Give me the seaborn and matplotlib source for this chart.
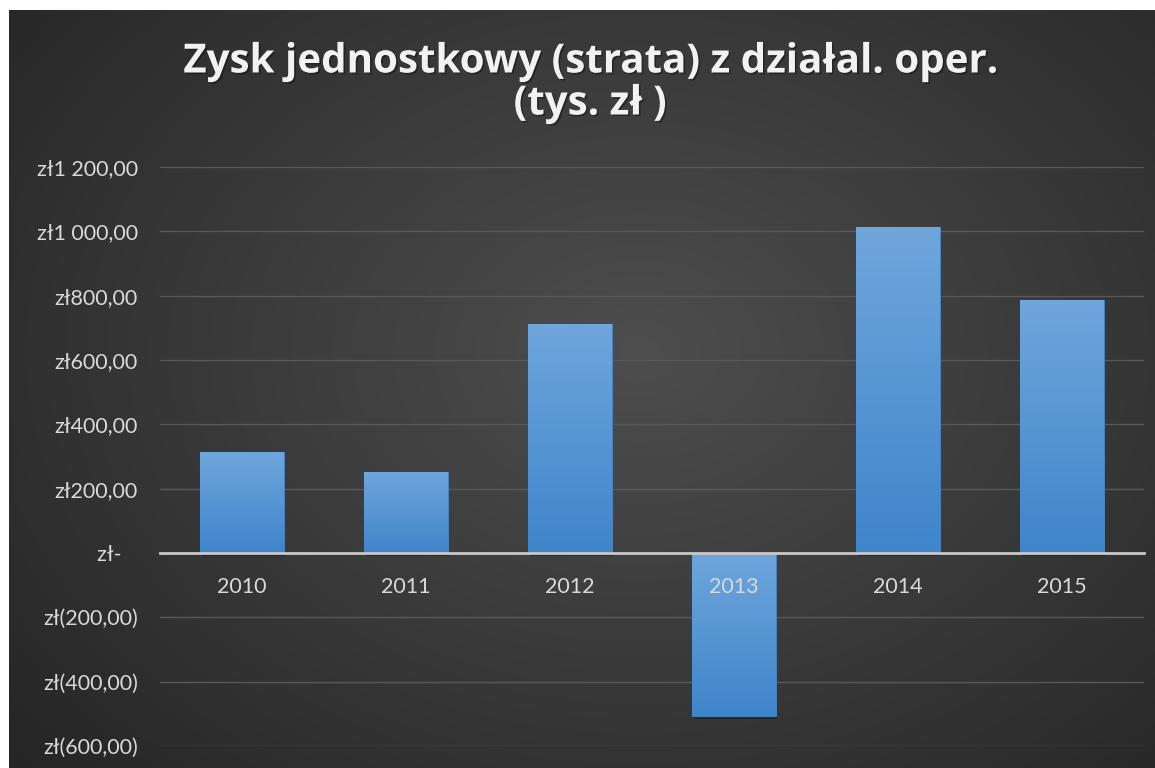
import numpy as np
import pandas as pd
import matplotlib
matplotlib.use("Agg")
import matplotlib.pyplot as plt
import matplotlib.patheffects as pe
import seaborn as sns
from matplotlib.ticker import FixedLocator, FixedFormatter

years = ["2010", "2011", "2012", "2013", "2014", "2015"]
values = [315, 252, 712, -507, 1013, 787]
ytick_values = [-600, -400, -200, 0, 200, 400, 600, 800, 1000, 1200]
ytick_labels = ["zł(600,00)", "zł(400,00)", "zł(200,00)", "zł-   ",
                "zł200,00", "zł400,00", "zł600,00", "zł800,00",
                "zł1 000,00", "zł1 200,00"]
title = "Zysk jednostkowy (strata) z działal. oper.\n(tys. zł )"

sns.set_theme(style="dark")
plt.rcParams["font.family"] = ["Lato", "DejaVu Sans"]

W, H = 1155, 768
fig = plt.figure(figsize=(W / 100, H / 100), dpi=100, facecolor="white")

# background panel with radial gradient
bg = fig.add_axes([9 / W, 0, 1 - 9 / W, 1 - 10 / H])
bg.set_axis_off()
yy, xx = np.mgrid[0:1:400j, 0:1:600j]
r = np.sqrt(((xx - 0.55) / 0.75) ** 2 + ((yy - 0.45) / 0.85) ** 2)
r = np.clip(r, 0, 1)
c_in = np.array([0x4e, 0x4e, 0x4e]) / 255
c_out = np.array([0x24, 0x24, 0x24]) / 255
img = c_in[None, None, :] * (1 - r[..., None]) + c_out[None, None, :] * r[..., None]
bg.imshow(img, extent=[0, 1, 0, 1], aspect="auto", origin="upper")
bg.set_xlim(0, 1)
bg.set_ylim(0, 1)

ax = fig.add_axes([160 / W, 1 - 746 / H, 984 / W, (746 - 167) / H])
ax.patch.set_alpha(0)

df = pd.DataFrame({"year": years, "value": values})
sns.barplot(data=df, x="year", y="value", ax=ax, color="#5b9bd5",
            width=0.51, saturation=1, edgecolor="#4a88c8", linewidth=0.6, zorder=3)

# gradient fill on bars
grad = np.linspace(0, 1, 256)[:, None]
cmap = matplotlib.colors.LinearSegmentedColormap.from_list("bar", ["#6fa6dc", "#3f85ca"])
for p in list(ax.patches):
    x0, y0 = p.get_x(), p.get_y()
    w, h = p.get_width(), p.get_height()
    top, bot = max(y0, y0 + h), min(y0, y0 + h)
    im = ax.imshow(grad, extent=[x0, x0 + w, bot, top], aspect="auto",
                   cmap=cmap, origin="upper", zorder=3.5)
    im.set_clip_path(p)
    sh = matplotlib.patches.Rectangle((x0 + 0.01, bot - 8), w, top - bot,
                                      facecolor="black", alpha=0.25, zorder=2.5, lw=0)
    ax.add_patch(sh)

ax.set_xlim(-0.5, len(years) - 0.5)
ax.set_ylim(-600, 1200)
ax.yaxis.set_major_locator(FixedLocator(ytick_values))
ax.yaxis.set_major_formatter(FixedFormatter(ytick_labels))
ax.grid(axis="y", color="#595959", linewidth=1, zorder=0)
ax.grid(axis="x", visible=False)
for s in ["top", "right", "left"]:
    ax.spines[s].set_visible(False)
ax.spines["bottom"].set_position(("data", 0))
ax.spines["bottom"].set_color("#c8c8c8")
ax.spines["bottom"].set_linewidth(2)
ax.spines["bottom"].set_zorder(5)
ax.xaxis.set_zorder(6)
ax.tick_params(axis="both", length=0, colors="#d9d9d9", labelsize=15.5)
ax.tick_params(axis="y", pad=16)
ax.tick_params(axis="x", pad=17)
ax.set_xlabel("")
ax.set_ylabel("")

fig.text(590 / W, 1 - 83 / H, title, ha="center", va="center", color="#f2f2f2",
         fontsize=29, fontweight="bold", linespacing=1.1,
         family=["Open Sans", "DejaVu Sans"],
         path_effects=[pe.withSimplePatchShadow(offset=(1.2, -1.2), shadow_rgbFace="black", alpha=0.35)])

fig.savefig("out.png", dpi=100, facecolor="white")
